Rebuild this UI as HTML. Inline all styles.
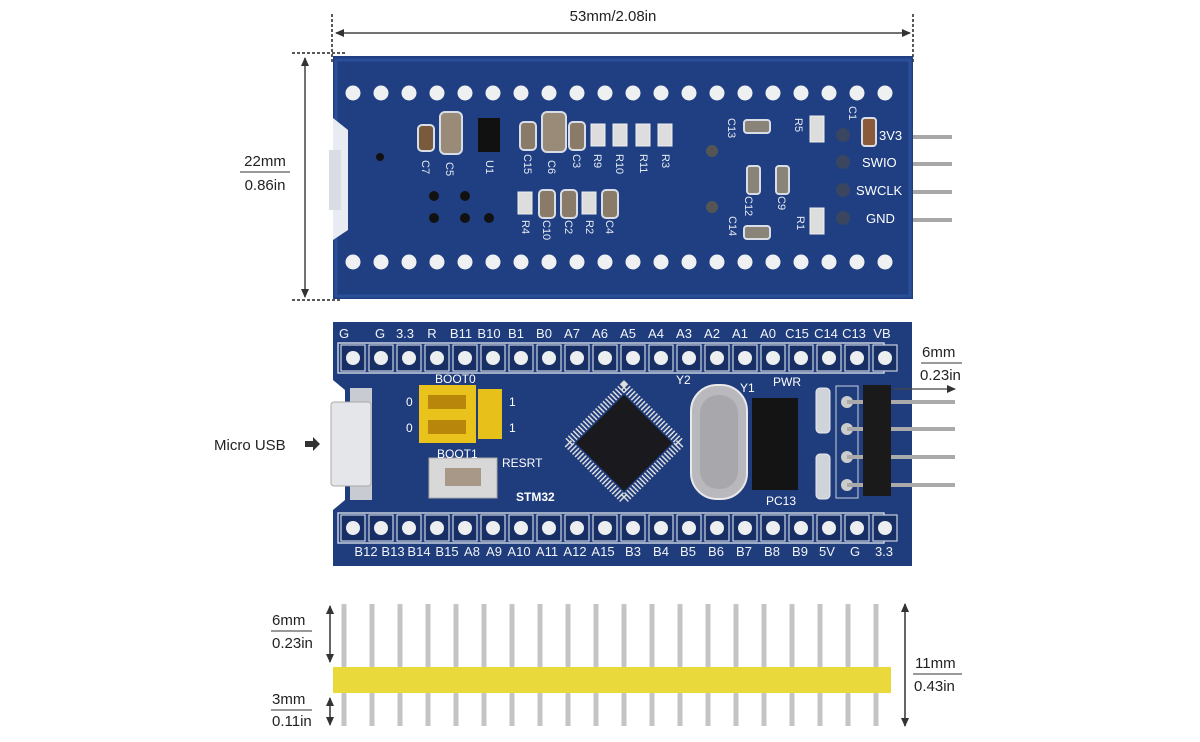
<!DOCTYPE html>
<html><head><meta charset="utf-8"><style>
html,body{margin:0;padding:0;background:#fff;width:1200px;height:742px;overflow:hidden}
svg{display:block}
text{font-family:"Liberation Sans",sans-serif}
</style></head><body>
<svg id="s" width="1200" height="742" viewBox="0 0 1200 742" xmlns="http://www.w3.org/2000/svg">
<defs>
<marker id="ar" markerWidth="10" markerHeight="10" refX="8" refY="5" orient="auto-start-reverse" markerUnits="userSpaceOnUse"><path d="M0,1 L9,5 L0,9 Z" fill="#333"/></marker>
</defs>
<!-- top dimension -->
<line x1="336" y1="33" x2="910" y2="33" stroke="#444" stroke-width="1.5" marker-start="url(#ar)" marker-end="url(#ar)"/>
<line x1="332" y1="14" x2="332" y2="62" stroke="#222" stroke-width="1.5" stroke-dasharray="3,2"/>
<line x1="913" y1="14" x2="913" y2="62" stroke="#222" stroke-width="1.5" stroke-dasharray="3,2"/>
<line x1="292" y1="53" x2="346" y2="53" stroke="#222" stroke-width="1.5" stroke-dasharray="3,2"/>
<line x1="292" y1="300" x2="340" y2="300" stroke="#222" stroke-width="1.5" stroke-dasharray="3,2"/>
<text x="613" y="21" font-size="15" text-anchor="middle" fill="#222">53mm/2.08in</text>
<line x1="305" y1="58" x2="305" y2="297" stroke="#444" stroke-width="1.5" marker-start="url(#ar)" marker-end="url(#ar)"/>
<text x="265" y="166" font-size="15" text-anchor="middle" fill="#222">22mm</text>
<line x1="240" y1="172" x2="290" y2="172" stroke="#333" stroke-width="1"/>
<text x="265" y="190" font-size="15" text-anchor="middle" fill="#222">0.86in</text>

<!-- top board -->
<rect x="333" y="56" width="580" height="243" fill="#1f3f82"/>
<rect x="336" y="60" width="574" height="236" fill="none" stroke="#2a4f98" stroke-width="3"/>
<path d="M333,118 L348,130 L348,230 L333,240 Z" fill="#e8ecf2"/>
<rect x="329" y="150" width="12" height="60" fill="#d8dde4"/>
<g id="toph"></g>
<!-- components top -->
<rect x="418" y="125" width="16" height="26" rx="4" fill="#7a5a3c" stroke="#d8dde8" stroke-width="2"/>
<rect x="440" y="112" width="22" height="42" rx="5" fill="#9a8a78" stroke="#d8dde8" stroke-width="2"/>
<rect x="478" y="118" width="22" height="34" fill="#111"/>
<rect x="520" y="122" width="16" height="28" rx="4" fill="#8a7a68" stroke="#d8dde8" stroke-width="2"/>
<rect x="542" y="112" width="24" height="40" rx="5" fill="#9a8a78" stroke="#d8dde8" stroke-width="2"/>
<rect x="569" y="122" width="16" height="28" rx="4" fill="#8a7a68" stroke="#d8dde8" stroke-width="2"/>
<rect x="591" y="124" width="14" height="22" fill="#ddd" stroke="#eee"/>
<rect x="613" y="124" width="14" height="22" fill="#ddd" stroke="#eee"/>
<rect x="636" y="124" width="14" height="22" fill="#ddd" stroke="#eee"/>
<rect x="658" y="124" width="14" height="22" fill="#ddd" stroke="#eee"/>
<rect x="518" y="192" width="14" height="22" fill="#ddd" stroke="#eee"/>
<rect x="539" y="190" width="16" height="28" rx="4" fill="#8a7a68" stroke="#d8dde8" stroke-width="2"/>
<rect x="561" y="190" width="16" height="28" rx="4" fill="#8a7a68" stroke="#d8dde8" stroke-width="2"/>
<rect x="582" y="192" width="14" height="22" fill="#ddd" stroke="#eee"/>
<rect x="602" y="190" width="16" height="28" rx="4" fill="#8a7a68" stroke="#d8dde8" stroke-width="2"/>
<rect x="744" y="120" width="26" height="13" rx="3" fill="#8a8478" stroke="#d8dde8" stroke-width="2"/>
<rect x="810" y="116" width="14" height="26" fill="#ddd" stroke="#eee"/>
<rect x="862" y="118" width="14" height="28" rx="3" fill="#8a5a3a" stroke="#d8dde8" stroke-width="2"/>
<rect x="747" y="166" width="13" height="28" rx="3" fill="#8a8478" stroke="#d8dde8" stroke-width="2"/>
<rect x="776" y="166" width="13" height="28" rx="3" fill="#8a8478" stroke="#d8dde8" stroke-width="2"/>
<rect x="744" y="226" width="26" height="13" rx="3" fill="#8a8478" stroke="#d8dde8" stroke-width="2"/>
<rect x="810" y="208" width="14" height="26" fill="#ddd" stroke="#eee"/>
<circle cx="712" cy="151" r="6" fill="#555"/><circle cx="712" cy="207" r="6" fill="#555"/>
<circle cx="843" cy="135" r="7" fill="#3a4660"/><circle cx="843" cy="162" r="7" fill="#3a4660"/><circle cx="843" cy="190" r="7" fill="#3a4660"/><circle cx="843" cy="218" r="7" fill="#3a4660"/>
<circle cx="380" cy="157" r="4" fill="#111"/>
<circle cx="434" cy="196" r="5" fill="#111"/><circle cx="465" cy="196" r="5" fill="#111"/><circle cx="434" cy="218" r="5" fill="#111"/><circle cx="465" cy="218" r="5" fill="#111"/><circle cx="489" cy="218" r="5" fill="#111"/>
<g font-size="13" fill="#fff">
<text x="879" y="140">3V3</text><text x="862" y="167">SWIO</text><text x="856" y="195">SWCLK</text><text x="866" y="223">GND</text>
</g>
<g font-size="11" fill="#e6eaf2">
<text transform="translate(422,160) rotate(90)">C7</text><text transform="translate(446,162) rotate(90)">C5</text>
<text transform="translate(486,160) rotate(90)">U1</text><text transform="translate(524,154) rotate(90)">C15</text>
<text transform="translate(548,160) rotate(90)">C6</text><text transform="translate(573,154) rotate(90)">C3</text>
<text transform="translate(594,154) rotate(90)">R9</text><text transform="translate(616,154) rotate(90)">R10</text>
<text transform="translate(640,154) rotate(90)">R11</text><text transform="translate(662,154) rotate(90)">R3</text>
<text transform="translate(522,220) rotate(90)">R4</text><text transform="translate(543,220) rotate(90)">C10</text>
<text transform="translate(565,220) rotate(90)">C2</text><text transform="translate(586,220) rotate(90)">R2</text>
<text transform="translate(606,220) rotate(90)">C4</text><text transform="translate(728,118) rotate(90)">C13</text>
<text transform="translate(795,118) rotate(90)">R5</text><text transform="translate(849,106) rotate(90)">C1</text>
<text transform="translate(745,196) rotate(90)">C12</text><text transform="translate(778,196) rotate(90)">C9</text>
<text transform="translate(729,216) rotate(90)">C14</text><text transform="translate(797,216) rotate(90)">R1</text>
</g>
<g stroke="#a8a8a8" stroke-width="4"><line x1="913" y1="137" x2="952" y2="137"/><line x1="913" y1="164" x2="952" y2="164"/><line x1="913" y1="192" x2="952" y2="192"/><line x1="913" y1="220" x2="952" y2="220"/></g>

<!-- bottom board -->
<path d="M333,322 H912 V566 H333 V510 L345,500 V390 L333,380 Z" fill="#1f3c7c"/>
<rect x="338" y="343" width="546" height="30" fill="none" stroke="#c8d0de" stroke-width="1.5"/>
<rect x="338" y="513" width="546" height="30" fill="none" stroke="#c8d0de" stroke-width="1.5"/>
<g id="both"></g>
<g font-size="13" fill="#f2f4f8" text-anchor="middle">
<text x="344" y="338">G</text><text x="380" y="338">G</text><text x="405" y="338">3.3</text><text x="432" y="338">R</text>
<text x="461" y="338">B11</text><text x="489" y="338">B10</text><text x="516" y="338">B1</text><text x="544" y="338">B0</text>
<text x="572" y="338">A7</text><text x="600" y="338">A6</text><text x="628" y="338">A5</text><text x="656" y="338">A4</text>
<text x="684" y="338">A3</text><text x="712" y="338">A2</text><text x="740" y="338">A1</text><text x="768" y="338">A0</text>
<text x="797" y="338">C15</text><text x="826" y="338">C14</text><text x="854" y="338">C13</text><text x="882" y="338">VB</text>
<text x="366" y="556">B12</text><text x="393" y="556">B13</text><text x="419" y="556">B14</text><text x="447" y="556">B15</text>
<text x="472" y="556">A8</text><text x="494" y="556">A9</text><text x="519" y="556">A10</text><text x="547" y="556">A11</text>
<text x="575" y="556">A12</text><text x="603" y="556">A15</text><text x="633" y="556">B3</text><text x="661" y="556">B4</text>
<text x="688" y="556">B5</text><text x="716" y="556">B6</text><text x="744" y="556">B7</text><text x="772" y="556">B8</text>
<text x="800" y="556">B9</text><text x="827" y="556">5V</text><text x="855" y="556">G</text><text x="884" y="556">3.3</text>
</g>
<!-- usb -->
<rect x="350" y="388" width="22" height="112" fill="#c8ccd2"/>
<rect x="331" y="402" width="40" height="84" rx="3" fill="#e4e6ea" stroke="#aaa"/>
<!-- jumpers -->
<rect x="419" y="385" width="57" height="58" fill="#eac21c"/>
<rect x="478" y="389" width="24" height="50" fill="#e8c01a"/>
<rect x="428" y="395" width="38" height="14" fill="#b8860b"/><rect x="428" y="420" width="38" height="14" fill="#b8860b"/>
<rect x="429" y="458" width="68" height="40" fill="#d8d8d8" stroke="#aaa"/>
<rect x="445" y="468" width="36" height="18" fill="#a89888"/>
<g font-size="12" fill="#fff"><text x="435" y="383">BOOT0</text><text x="437" y="458">BOOT1</text><text x="502" y="467">RESRT</text><text x="516" y="501" font-weight="bold">STM32</text>
<text x="406" y="406">0</text><text x="406" y="432">0</text><text x="509" y="406">1</text><text x="509" y="432">1</text>
<text x="676" y="384">Y2</text><text x="740" y="392">Y1</text><text x="773" y="386">PWR</text><text x="766" y="505">PC13</text></g>
<!-- chip -->
<g transform="translate(624,443) rotate(45)">
<rect x="-40" y="-40" width="80" height="80" fill="none" stroke="#ddd" stroke-width="9" stroke-dasharray="1.5,2"/>
<rect x="-34" y="-34" width="68" height="68" fill="#1a1a1e"/>
</g>
<!-- crystal -->
<rect x="691" y="385" width="56" height="114" rx="26" fill="#b9b9bd" stroke="#e8e8ea" stroke-width="2"/>
<rect x="700" y="395" width="38" height="94" rx="18" fill="#a8a8ac"/>
<!-- black part -->
<rect x="752" y="398" width="46" height="92" fill="#141414"/>
<rect x="816" y="388" width="14" height="45" rx="4" fill="#cfd3da" stroke="#e8e8ea"/>
<rect x="816" y="454" width="14" height="45" rx="4" fill="#cfd3da" stroke="#e8e8ea"/>
<rect x="836" y="386" width="22" height="112" fill="none" stroke="#c8d0de"/>
<circle cx="847" cy="402" r="6" fill="#ccc"/><circle cx="847" cy="429" r="6" fill="#ccc"/><circle cx="847" cy="457" r="6" fill="#ccc"/><circle cx="847" cy="485" r="6" fill="#ccc"/>
<g stroke="#aaa" stroke-width="4"><line x1="847" y1="402" x2="955" y2="402"/><line x1="847" y1="429" x2="955" y2="429"/><line x1="847" y1="457" x2="955" y2="457"/><line x1="847" y1="485" x2="955" y2="485"/></g>
<rect x="863" y="385" width="28" height="111" fill="#1a1a1a"/>
<line x1="893" y1="389" x2="955" y2="389" stroke="#444" stroke-width="1.2" marker-end="url(#ar)"/>
<text x="922" y="357" font-size="15" fill="#222">6mm</text>
<line x1="921" y1="363" x2="962" y2="363" stroke="#333"/>
<text x="920" y="380" font-size="15" fill="#222">0.23in</text>
<text x="214" y="450" font-size="15" fill="#222">Micro USB</text>
<path d="M305,441 h8 v-4 l7,7 l-7,7 v-4 h-8 Z" fill="#333"/>

<!-- pin header -->
<g id="pins"></g>
<rect x="333" y="667" width="558" height="26" fill="#ead93a"/>
<line x1="330" y1="606" x2="330" y2="662" stroke="#333" stroke-width="1.5" marker-start="url(#ar)" marker-end="url(#ar)"/>
<line x1="330" y1="698" x2="330" y2="725" stroke="#333" stroke-width="1.5" marker-start="url(#ar)" marker-end="url(#ar)"/>
<line x1="905" y1="604" x2="905" y2="726" stroke="#333" stroke-width="1.5" marker-start="url(#ar)" marker-end="url(#ar)"/>
<g font-size="15" fill="#222">
<text x="272" y="625">6mm</text><line x1="271" y1="631" x2="312" y2="631" stroke="#333"/><text x="272" y="648">0.23in</text>
<text x="272" y="704">3mm</text><line x1="271" y1="710" x2="312" y2="710" stroke="#333"/><text x="272" y="726">0.11in</text>
<text x="915" y="668">11mm</text><line x1="913" y1="674" x2="962" y2="674" stroke="#333"/><text x="914" y="691">0.43in</text>
</g>
</svg>
<script>
var NS="http://www.w3.org/2000/svg";
function el(p,t,a){var e=document.createElementNS(NS,t);for(var k in a)e.setAttribute(k,a[k]);document.getElementById(p).appendChild(e);}
for(var i=0;i<20;i++){var x=353+i*28;
el("toph","circle",{cx:x,cy:93,r:7.5,fill:"#eef0f2"});
el("toph","circle",{cx:x,cy:262,r:7.5,fill:"#eef0f2"});
el("both","rect",{x:x-12,y:345,width:24,height:26,fill:"#182f66",stroke:"#c8d0de","stroke-width":1.2});
el("both","rect",{x:x-12,y:515,width:24,height:26,fill:"#182f66",stroke:"#c8d0de","stroke-width":1.2});
el("both","circle",{cx:x,cy:358,r:7,fill:"#eceef0"});
el("both","circle",{cx:x,cy:528,r:7,fill:"#eceef0"});
var px=344+i*28;
el("pins","rect",{x:px-2.5,y:604,width:5,height:122,fill:"#c4c4c4"});
}
</script>
</body></html>
